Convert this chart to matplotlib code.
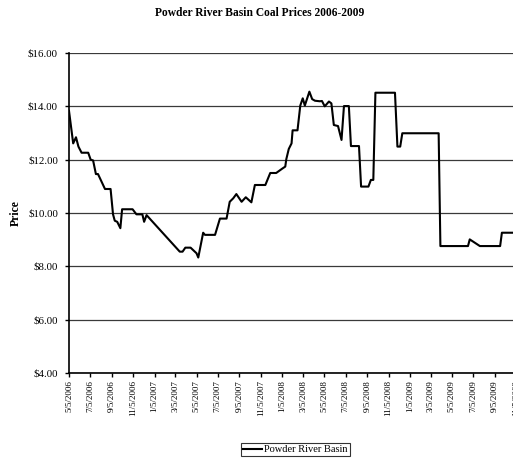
import matplotlib
matplotlib.use("Agg")
import matplotlib.pyplot as plt
import matplotlib.dates as mdates
import matplotlib.ticker as mticker
import pandas as pd

plt.rcParams['font.family'] = ['Liberation Serif', 'DejaVu Serif']

# weekly PRB spot prices ($/ton)
dates = ["2006-05-05", "2006-05-17", "2006-05-25", "2006-06-01", "2006-06-10", "2006-06-29",
         "2006-07-06", "2006-07-13", "2006-07-21", "2006-07-27", "2006-08-16", "2006-09-01",
         "2006-09-08", "2006-09-13", "2006-09-20", "2006-09-29", "2006-10-04", "2006-11-03",
         "2006-11-14", "2006-12-01", "2006-12-06", "2006-12-13", "2007-03-18", "2007-03-26",
         "2007-04-03", "2007-04-18", "2007-05-05", "2007-05-10", "2007-05-24", "2007-05-29",
         "2007-06-27", "2007-07-11", "2007-07-30", "2007-08-08", "2007-08-18", "2007-08-27",
         "2007-09-11", "2007-09-23", "2007-10-09", "2007-10-19", "2007-11-18", "2007-12-02",
         "2007-12-19", "2008-01-05", "2008-01-14", "2008-01-17", "2008-01-24", "2008-02-01",
         "2008-02-04", "2008-02-18", "2008-02-26", "2008-03-04", "2008-03-10", "2008-03-23",
         "2008-03-31", "2008-04-08", "2008-04-22", "2008-04-28", "2008-05-06", "2008-05-18",
         "2008-05-25", "2008-06-01", "2008-06-13", "2008-06-23", "2008-06-30", "2008-07-14",
         "2008-07-20", "2008-08-12", "2008-08-18", "2008-09-08", "2008-09-15", "2008-09-22",
         "2008-09-28", "2008-11-23", "2008-11-30", "2008-12-08", "2008-12-14", "2009-03-28",
         "2009-04-02", "2009-06-20", "2009-06-25", "2009-07-24", "2009-09-20", "2009-09-25",
         "2009-12-15"]
prices = [13.83, 12.61, 12.84, 12.49, 12.26, 12.26,
          12.00, 11.97, 11.46, 11.46, 10.90, 10.90,
          9.95, 9.71, 9.67, 9.43, 10.14, 10.14,
          9.95, 9.95, 9.67, 9.92, 8.55, 8.55,
          8.70, 8.70, 8.49, 8.33, 9.26, 9.18,
          9.18, 9.79, 9.79, 10.42, 10.55, 10.71,
          10.42, 10.59, 10.40, 11.05, 11.05, 11.50,
          11.50, 11.66, 11.74, 12.02, 12.40, 12.61,
          13.10, 13.10, 14.03, 14.30, 14.03, 14.55,
          14.27, 14.21, 14.19, 14.20, 14.00, 14.18,
          14.11, 13.30, 13.26, 12.74, 14.01, 14.01,
          12.51, 12.51, 10.99, 10.99, 11.24, 11.24,
          14.51, 14.51, 12.49, 12.49, 12.99, 12.99,
          8.76, 8.76, 9.01, 8.76, 8.76, 9.26,
          9.26]

df = pd.DataFrame({'date': pd.to_datetime(dates), 'price': prices})

fig = plt.figure(figsize=(5.13, 4.58), dpi=100)
# the original chart is cut off on the right, so the axes run past the figure edge
ax = fig.add_axes([0.1345, 0.1856, 0.899, 0.6987])

ax.plot(df['date'], df['price'], color='black', lw=1.5, label='Powder River Basin')

ax.set_ylim(4, 16)
ax.set_xlim(pd.Timestamp("2006-05-05"), pd.Timestamp("2009-12-15"))
ax.yaxis.set_major_locator(mticker.MultipleLocator(2))
ax.yaxis.set_major_formatter(mticker.FuncFormatter(lambda v, p: "${:.2f}".format(v)))
ax.grid(axis='y', color='#3a3a3a', lw=0.9)
ax.set_axisbelow(True)

ax.xaxis.set_major_locator(mdates.MonthLocator(bymonth=[1, 3, 5, 7, 9, 11], bymonthday=5))
ax.xaxis.set_major_formatter(mticker.FuncFormatter(
    lambda v, p: "{d.month}/{d.day}/{d.year}".format(d=mdates.num2date(v))))

for s in ['top', 'right']:
    ax.spines[s].set_visible(False)
ax.spines['left'].set_linewidth(1.2)
ax.spines['bottom'].set_linewidth(1.2)

ax.tick_params(axis='y', labelsize=7.8, length=3, width=1, pad=5)
ax.tick_params(axis='x', labelsize=6.5, length=3, width=1, pad=2, labelrotation=90)

ax.set_ylabel("Price", fontsize=8.5, fontweight='bold', labelpad=4)
fig.text(0.507, 0.972, "Powder River Basin Coal Prices 2006-2009",
         ha='center', va='center', fontsize=8.3, fontweight='bold')

leg = ax.legend(loc='center', bbox_to_anchor=(0.576, 0.018), bbox_transform=fig.transFigure,
                fontsize=7.5, frameon=True, fancybox=False, edgecolor='black',
                handlelength=1.8, handletextpad=0.2, borderpad=0.2, borderaxespad=0)
leg.get_frame().set_linewidth(0.8)

fig.savefig("out.png", dpi=100)
